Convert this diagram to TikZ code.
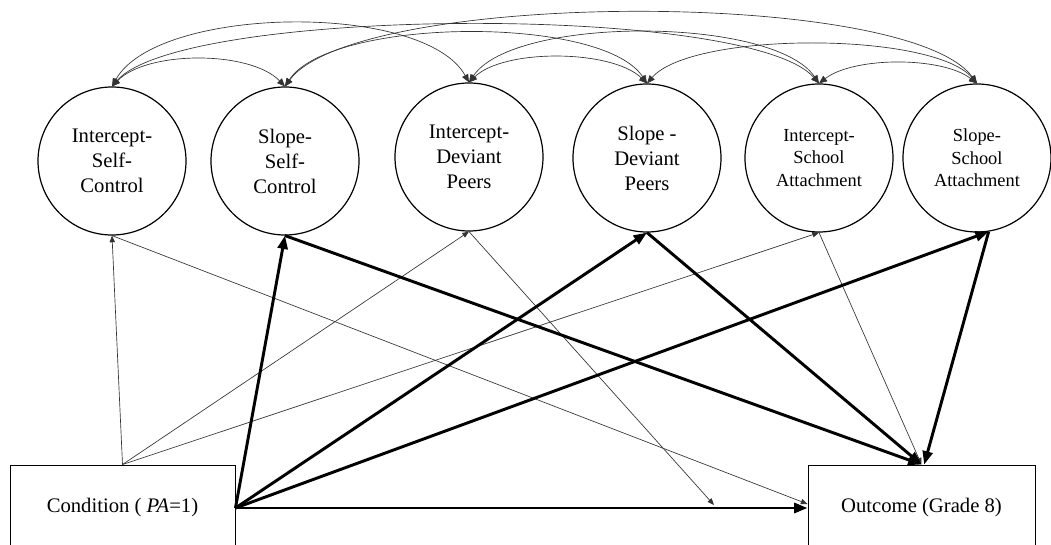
\documentclass[tikz,border=0pt]{standalone}
\usepackage{fontspec}
\setmainfont{Liberation Serif}
\usetikzlibrary{arrows.meta}
\begin{document}
\begin{tikzpicture}[x=0.75pt,y=-0.75pt,
  lat/.style={circle,draw,line width=0.9pt,minimum size=111pt,inner sep=0pt,align=center,
    font=\fontsize{15.5}{18.75}\selectfont},
  latsm/.style={lat,font=\fontsize{13.8}{16.9}\selectfont},
  obs/.style={rectangle,draw,line width=0.7pt,minimum height=64.5pt,inner sep=0pt,
    font=\fontsize{15.5}{18.75}\selectfont},
  thinarr/.style={line width=0.5pt,draw=black!80,-{Triangle[length=5pt,width=4pt]}},
  thickarr/.style={line width=2.2pt,-{Triangle[length=10pt,width=7.5pt]}},
  cov/.style={line width=0.5pt,draw=black!80,{Triangle[length=6pt,width=5pt]}-{Triangle[length=6pt,width=5pt]}}
]
\useasboundingbox (0,0) rectangle (1051,545);
\clip (0,0) rectangle (1051,545);

% latent factors
\node[lat]   (c1) at (112,161) {Intercept-\\Self-\\Control};
\node[lat]   (c2) at (285,161) {Slope-\\Self-\\Control};
\node[lat]   (c3) at (469,157) {Intercept-\\Deviant\\Peers};
\node[lat]   (c4) at (647,158) {Slope -\\Deviant\\Peers};
\node[latsm] (c5) at (819,158) {Intercept-\\School\\Attachment};
\node[latsm] (c6) at (977,158) {Slope-\\School\\Attachment};

% observed variables
\node[obs,minimum width=168.75pt] (cond) at (122.5,508) {Condition ( \textit{PA}=1)};
\node[obs,minimum width=170.25pt] (out)  at (921.5,508) {Outcome (Grade 8)};

\coordinate (onpath) at (714,505);

% covariances
\draw[cov] (c1.north) .. controls +(35,-36) and +(-35,-36) .. (c2.north);
\draw[cov] (c1.north) .. controls +(45,-81) and +(-45,-81) .. (c3.north);
\draw[cov] (c1.north) .. controls +(70,-80) and +(-70,-80) .. (c5.north);
\draw[cov] (c2.north) .. controls +(45,-69) and +(-45,-69) .. (c4.north);
\draw[cov] (c2.north) .. controls +(70,-96) and +(-70,-96) .. (c6.north);
\draw[cov] (c3.north) .. controls +(35,-34) and +(-35,-34) .. (c4.north);
\draw[cov] (c3.north) .. controls +(45,-67) and +(-45,-67) .. (c5.north);
\draw[cov] (c4.north) .. controls +(45,-52) and +(-45,-52) .. (c6.north);
\draw[cov] (c5.north) .. controls +(35,-27) and +(-35,-27) .. (c6.north);

% thin paths
\draw[thinarr] (cond.north) -- (c1.south);
\draw[thinarr] (cond.north) -- (c3.south);
\draw[thinarr] (cond.north) -- (c5.south);
\draw[thinarr] (c1.south) -- ([yshift=3pt]out.west);
\draw[thinarr] (c3.south) -- (onpath);
\draw[thinarr] (c5.south) -- (out.north);

% thick paths
\draw[thickarr] (cond.east) -- (c2.south);
\draw[thickarr] (cond.east) -- (c4.south);
\draw[thickarr] (cond.east) -- (c6.-81);
\draw[thickarr] (cond.east) -- (out.west);
\draw[thickarr] (c2.south) -- (out.north);
\draw[thickarr] (c4.south) -- (out.north);
\draw[thickarr] (c6.-81) -- ([xshift=2pt]out.north);
\end{tikzpicture}
\end{document}
